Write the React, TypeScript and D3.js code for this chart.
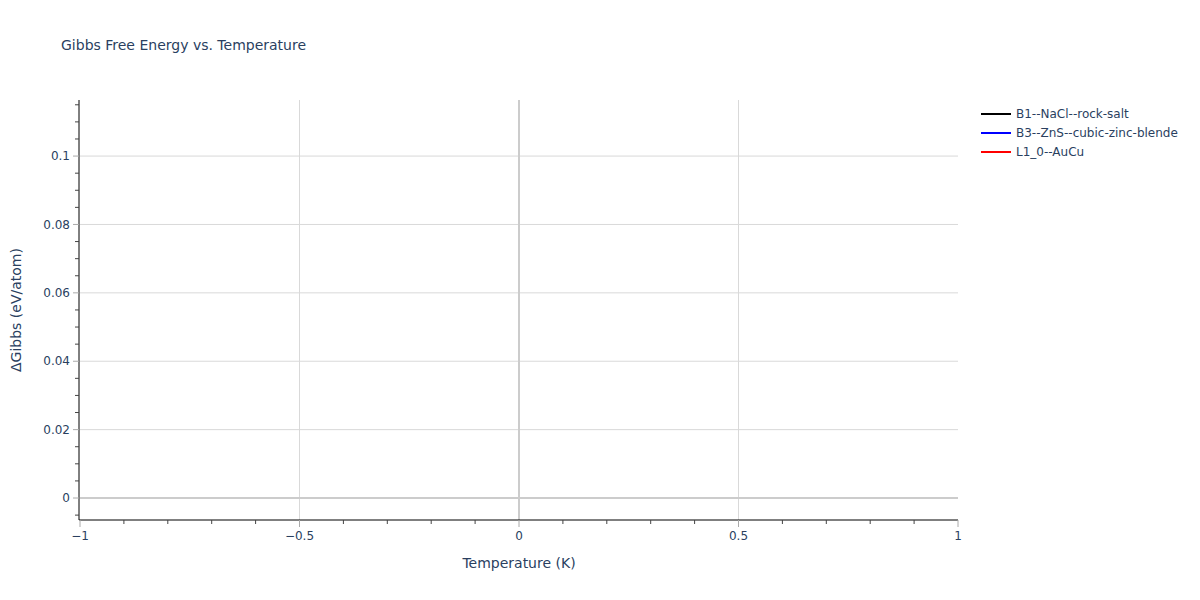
import React from "react";
import * as d3 from "d3";

const seriesNames = ["B1--NaCl--rock-salt", "B3--ZnS--cubic-zinc-blende", "L1_0--AuCu"];
const seriesColors = ["black", "blue", "red"];
const temperatures = [0];
const gibbsB1 = [0];
const gibbsB3 = [0];
const gibbsL10 = [0];
const xTicks = [-1, -0.5, 0, 0.5, 1];
const yTicks = [0, 0.02, 0.04, 0.06, 0.08, 0.1];
const xDomain = [-1, 1];
const yDomain = [-0.00643, 0.1164];

const W = 1200, H = 600;
const M = { left: 80, right: 242, top: 100, bottom: 80 };
const FONT = "'DejaVu Sans', Verdana, sans-serif";
const TXT = "#2a3f5f";

export default function App() {
  const x = d3.scaleLinear().domain(xDomain).range([M.left, W - M.right]);
  const y = d3.scaleLinear().domain(yDomain).range([H - M.bottom, M.top]);
  const series = [gibbsB1, gibbsB3, gibbsL10];
  const line = d3.line<number>().x((_, i) => x(temperatures[i])).y((d) => y(d));
  const xMinor = d3.range(-10, 11).map((v) => v / 10).filter((v) => !xTicks.some((t) => Math.abs(t - v) < 1e-9));
  const yMinor = d3.range(-1, 24).map((v) => v * 0.005)
    .filter((v) => v >= yDomain[0] && v <= yDomain[1])
    .filter((v) => !yTicks.some((t) => Math.abs(t - v) < 1e-9));
  const fmtX = (v: number) => (v < 0 ? "\u2212" + Math.abs(v) : String(v));
  return (
    <svg width={W} height={H} style={{ position: "absolute", left: 0, top: 0, background: "white" }} fontFamily={FONT}>
      {xTicks.filter((v) => v !== 0 && Math.abs(v) !== 1).map((v) => (
        <line key={"gx" + v} x1={x(v)} x2={x(v)} y1={M.top} y2={H - M.bottom} stroke="#d9d9d9" strokeWidth={1} />
      ))}
      {yTicks.filter((v) => v !== 0).map((v) => (
        <line key={"gy" + v} x1={M.left} x2={W - M.right} y1={y(v)} y2={y(v)} stroke="#d9d9d9" strokeWidth={1} />
      ))}
      <line x1={x(0)} x2={x(0)} y1={M.top} y2={H - M.bottom} stroke="#cccccc" strokeWidth={2} />
      <line x1={M.left} x2={W - M.right} y1={y(0)} y2={y(0)} stroke="#cccccc" strokeWidth={2} />
      {series.map((s, i) => (
        <path key={seriesNames[i]} d={line(s) || ""} fill="none" stroke={seriesColors[i]} strokeWidth={2} />
      ))}
      <line x1={M.left - 1} x2={M.left - 1} y1={M.top} y2={H - M.bottom} stroke="black" strokeWidth={1} />
      <line x1={M.left - 1} x2={W - M.right} y1={H - M.bottom} y2={H - M.bottom} stroke="black" strokeWidth={1} />
      {yMinor.map((v) => (
        <line key={"ty" + v} x1={M.left - 5} x2={M.left - 1} y1={y(v)} y2={y(v)} stroke="#444" strokeWidth={1} />
      ))}
      {yTicks.map((v) => (
        <line key={"tyM" + v} x1={M.left - 7} x2={M.left - 1} y1={y(v)} y2={y(v)} stroke="#aaaaaa" strokeWidth={1} />
      ))}
      {xMinor.map((v) => (
        <line key={"tx" + v} x1={x(v)} x2={x(v)} y1={H - M.bottom} y2={H - M.bottom + 4} stroke="#444" strokeWidth={1} />
      ))}
      {xTicks.map((v) => (
        <line key={"txM" + v} x1={x(v)} x2={x(v)} y1={H - M.bottom} y2={H - M.bottom + 7} stroke="#aaaaaa" strokeWidth={1} />
      ))}
      {yTicks.map((v) => (
        <text key={"ly" + v} x={M.left - 10} y={y(v)} dy="0.35em" textAnchor="end" fontSize={12} fill={TXT}>
          {String(v)}
        </text>
      ))}
      {xTicks.map((v) => (
        <text key={"lx" + v} x={x(v)} y={H - M.bottom + 20} textAnchor="middle" fontSize={12} fill={TXT}>
          {fmtX(v)}
        </text>
      ))}
      <text x={61} y={50} fontSize={14} fill={TXT}>Gibbs Free Energy vs. Temperature</text>
      <text x={(M.left + W - M.right) / 2} y={568} textAnchor="middle" fontSize={14} fill={TXT}>Temperature (K)</text>
      <text transform={`translate(21,${(M.top + H - M.bottom) / 2}) rotate(-90)`} textAnchor="middle" fontSize={14} fill={TXT}>
        ΔGibbs (eV/atom)
      </text>
      {seriesNames.map((n, i) => (
        <g key={"lg" + n} transform={`translate(981,${114 + i * 19})`}>
          <line x1={0} x2={30} y1={0} y2={0} stroke={seriesColors[i]} strokeWidth={2} />
          <text x={35} y={0} dy="0.35em" fontSize={12} fill={TXT}>{n}</text>
        </g>
      ))}
    </svg>
  );
}
